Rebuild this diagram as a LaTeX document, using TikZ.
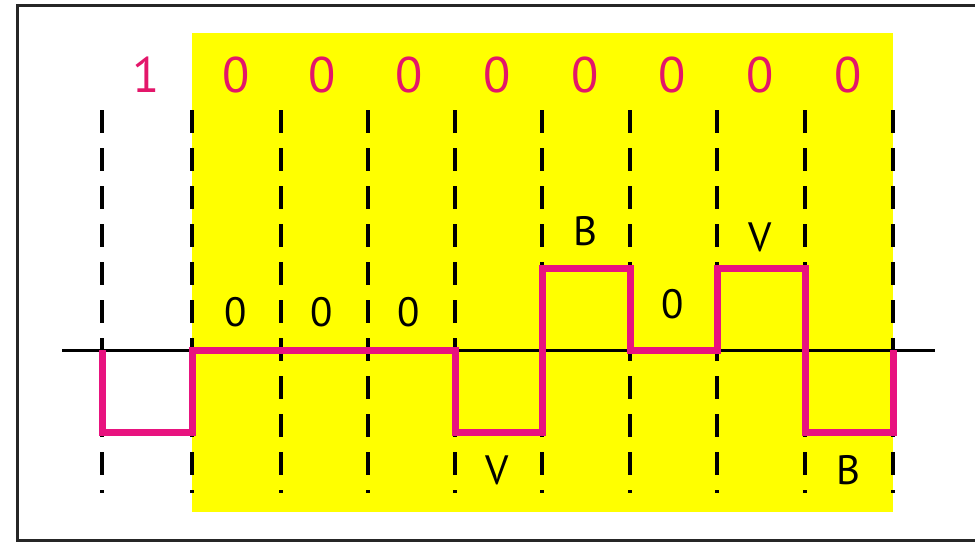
\documentclass[tikz,border=0pt]{standalone}
\usepackage{fontspec}
\setmainfont{PT Sans}
\usepackage{xcolor}
\definecolor{hdbyellow}{HTML}{FFFF00}
\definecolor{hdbpink}{HTML}{E8137F}
\definecolor{hdbdigit}{HTML}{E3166A}
\usetikzlibrary{positioning}

\begin{document}
\begin{tikzpicture}[
      x=1pt, y=-1pt,
      bit/.style={text=hdbdigit, font=\fontsize{50}{50}\selectfont, inner sep=0pt},
      code/.style={text=black, font=\fontsize{41}{41}\selectfont, inner sep=0pt},
      clk/.style={black, line width=3.5pt, dash pattern=on 23pt off 15pt},
      sig/.style={hdbpink, line width=7pt, line join=miter},
    ]
    \useasboundingbox (0,0) rectangle (975,542);
    % frame and substituted block
    \draw[line width=3pt, black!85] (975,5) -- (17,5) -- (17,540) -- (975,540);
    \fill[hdbyellow] (192,33) rectangle (893,512);

    % clock boundaries
    \foreach \x in {102,192,281,368,455,542,630,717,805,893}
      \draw[clk] (\x,110) -- (\x,493);

    % zero level
    \coordinate (z0) at (62,350);
    \coordinate (z1) at (935,350);
    \draw[line width=3pt] (z0) -- (z1);

    % HDB3 waveform
    \draw[sig] (102,350) -- (102,432) -- (192,432) -- (192,350) -- (455,350)
      -- (455,432) -- (542,432) -- (542,268) -- (630,268) -- (630,350)
      -- (717,350) -- (717,268) -- (805,268) -- (805,432) -- (893,432) -- (893,350);

    % data bits
    \node[bit] (b1) at (146,75) {1};
    \node[bit] (b2) at (236,75) {0};
    \node[bit] (b3) at (322,75) {0};
    \node[bit] (b4) at (409,75) {0};
    \node[bit] (b5) at (497,75) {0};
    \node[bit] (b6) at (585,75) {0};
    \node[bit] (b7) at (672,75) {0};
    \node[bit] (b8) at (760,75) {0};
    \node[bit] (b9) at (848,75) {0};

    % code marks
    \node[code] (c1) at (236,312) {0};
    \node[code] (c2) at (322,312) {0};
    \node[code] (c3) at (409,312) {0};
    \node[code] (v1) at (497,470) {V};
    \node[code] (bb1) at (585,231) {B};
    \node[code] (c4) at (673,304) {0};
    \node[code] (v2) at (760,237) {V};
    \node[code] (bb2) at (848,470) {B};
  \end{tikzpicture}
\end{document}
